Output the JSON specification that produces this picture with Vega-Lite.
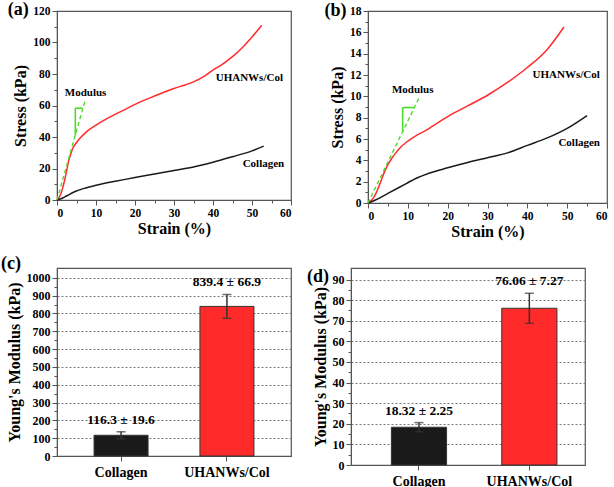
{
  "$schema": "https://vega.github.io/schema/vega-lite/v6.json",
  "padding": {"left": 0, "top": 0, "right": 4, "bottom": 0},
  "background": "white",
  "config": {
    "font": "Liberation Serif",
    "view": {"stroke": "#555", "strokeWidth": 1.2},
    "axis": {"labelFont": "Liberation Serif", "labelFontWeight": "bold", "titleFont": "Liberation Serif", "titleFontWeight": "bold", "domainColor": "#555", "tickColor": "#555", "labelColor": "#000", "titleColor": "#000", "grid": false, "labelFontSize": 11.5, "titleFontSize": 16, "labelOverlap": false},
    "title": {"font": "Liberation Serif", "fontWeight": "bold", "fontSize": 18, "anchor": "start", "frame": "bounds", "color": "#000"},
    "text": {"font": "Liberation Serif", "fontWeight": "bold"}
  },
  "datasets": {
    "curvesA": [
      {"series": "UHANWs/Col", "strain": 0, "stress": 0},
      {"series": "UHANWs/Col", "strain": 0.5, "stress": 1.5},
      {"series": "UHANWs/Col", "strain": 1, "stress": 4},
      {"series": "UHANWs/Col", "strain": 1.5, "stress": 8},
      {"series": "UHANWs/Col", "strain": 2, "stress": 13},
      {"series": "UHANWs/Col", "strain": 2.5, "stress": 19},
      {"series": "UHANWs/Col", "strain": 3, "stress": 25},
      {"series": "UHANWs/Col", "strain": 3.5, "stress": 29},
      {"series": "UHANWs/Col", "strain": 4, "stress": 32.5},
      {"series": "UHANWs/Col", "strain": 5, "stress": 36.5},
      {"series": "UHANWs/Col", "strain": 6, "stress": 39.5},
      {"series": "UHANWs/Col", "strain": 7, "stress": 42},
      {"series": "UHANWs/Col", "strain": 8, "stress": 44.2},
      {"series": "UHANWs/Col", "strain": 10, "stress": 47.5},
      {"series": "UHANWs/Col", "strain": 12, "stress": 50.5},
      {"series": "UHANWs/Col", "strain": 15, "stress": 54.5},
      {"series": "UHANWs/Col", "strain": 18, "stress": 58.2},
      {"series": "UHANWs/Col", "strain": 20, "stress": 60.7},
      {"series": "UHANWs/Col", "strain": 25, "stress": 66},
      {"series": "UHANWs/Col", "strain": 30, "stress": 70.8},
      {"series": "UHANWs/Col", "strain": 33, "stress": 73.2},
      {"series": "UHANWs/Col", "strain": 35, "stress": 75},
      {"series": "UHANWs/Col", "strain": 38, "stress": 79},
      {"series": "UHANWs/Col", "strain": 40, "stress": 82.5},
      {"series": "UHANWs/Col", "strain": 42, "stress": 85.5},
      {"series": "UHANWs/Col", "strain": 45, "stress": 91},
      {"series": "UHANWs/Col", "strain": 48, "stress": 98},
      {"series": "UHANWs/Col", "strain": 50, "stress": 103.5},
      {"series": "UHANWs/Col", "strain": 52.5, "stress": 111},
      {"series": "Collagen", "strain": 0, "stress": 0},
      {"series": "Collagen", "strain": 1, "stress": 0.8},
      {"series": "Collagen", "strain": 2, "stress": 2},
      {"series": "Collagen", "strain": 3, "stress": 3.3},
      {"series": "Collagen", "strain": 4, "stress": 4.6},
      {"series": "Collagen", "strain": 5, "stress": 5.7},
      {"series": "Collagen", "strain": 6, "stress": 6.6},
      {"series": "Collagen", "strain": 7, "stress": 7.4},
      {"series": "Collagen", "strain": 8, "stress": 8.1},
      {"series": "Collagen", "strain": 10, "stress": 9.4},
      {"series": "Collagen", "strain": 12, "stress": 10.5},
      {"series": "Collagen", "strain": 15, "stress": 11.9},
      {"series": "Collagen", "strain": 20, "stress": 14.3},
      {"series": "Collagen", "strain": 25, "stress": 16.5},
      {"series": "Collagen", "strain": 30, "stress": 18.8},
      {"series": "Collagen", "strain": 35, "stress": 21},
      {"series": "Collagen", "strain": 40, "stress": 24},
      {"series": "Collagen", "strain": 45, "stress": 27.5},
      {"series": "Collagen", "strain": 50, "stress": 31.2},
      {"series": "Collagen", "strain": 53, "stress": 34.2}
    ],
    "curvesB": [
      {"series": "UHANWs/Col", "strain": 0, "stress": 0},
      {"series": "UHANWs/Col", "strain": 1, "stress": 0.3},
      {"series": "UHANWs/Col", "strain": 2, "stress": 0.9},
      {"series": "UHANWs/Col", "strain": 3, "stress": 1.8},
      {"series": "UHANWs/Col", "strain": 4, "stress": 2.8},
      {"series": "UHANWs/Col", "strain": 5, "stress": 3.6},
      {"series": "UHANWs/Col", "strain": 6, "stress": 4.2},
      {"series": "UHANWs/Col", "strain": 7, "stress": 4.7},
      {"series": "UHANWs/Col", "strain": 8, "stress": 5.15},
      {"series": "UHANWs/Col", "strain": 10, "stress": 5.8},
      {"series": "UHANWs/Col", "strain": 12, "stress": 6.3},
      {"series": "UHANWs/Col", "strain": 14, "stress": 6.7},
      {"series": "UHANWs/Col", "strain": 16, "stress": 7.15},
      {"series": "UHANWs/Col", "strain": 20, "stress": 8.1},
      {"series": "UHANWs/Col", "strain": 25, "stress": 9.1},
      {"series": "UHANWs/Col", "strain": 30, "stress": 10.1},
      {"series": "UHANWs/Col", "strain": 35, "stress": 11.3},
      {"series": "UHANWs/Col", "strain": 40, "stress": 12.7},
      {"series": "UHANWs/Col", "strain": 45, "stress": 14.4},
      {"series": "UHANWs/Col", "strain": 49.2, "stress": 16.5},
      {"series": "Collagen", "strain": 0, "stress": 0},
      {"series": "Collagen", "strain": 2, "stress": 0.3},
      {"series": "Collagen", "strain": 5, "stress": 0.9},
      {"series": "Collagen", "strain": 8, "stress": 1.5},
      {"series": "Collagen", "strain": 10, "stress": 1.9},
      {"series": "Collagen", "strain": 12, "stress": 2.3},
      {"series": "Collagen", "strain": 15, "stress": 2.75},
      {"series": "Collagen", "strain": 20, "stress": 3.3},
      {"series": "Collagen", "strain": 25, "stress": 3.8},
      {"series": "Collagen", "strain": 30, "stress": 4.25},
      {"series": "Collagen", "strain": 35, "stress": 4.7},
      {"series": "Collagen", "strain": 40, "stress": 5.4},
      {"series": "Collagen", "strain": 45, "stress": 6.1},
      {"series": "Collagen", "strain": 50, "stress": 7.0},
      {"series": "Collagen", "strain": 55, "stress": 8.2}
    ],
    "modA": [{"strain": 0, "stress": 0}, {"strain": 7.3, "stress": 64}],
    "modB": [{"strain": 0, "stress": 0}, {"strain": 13, "stress": 10}],
    "bracketA": [
      {"x1": 4.7, "y1": 41, "x2": 4.7, "y2": 58.3},
      {"x1": 4.7, "y1": 58.3, "x2": 6.6, "y2": 58.3}
    ],
    "bracketB": [
      {"x1": 8.7, "y1": 6.7, "x2": 8.7, "y2": 8.95},
      {"x1": 8.7, "y1": 8.95, "x2": 11.6, "y2": 8.95}
    ],
    "labelsA": [
      {"text": "UHANWs/Col", "x": 40.7, "y": 77.4},
      {"text": "Collagen", "x": 47.6, "y": 22.9},
      {"text": "Modulus", "x": 2.0, "y": 68}
    ],
    "labelsB": [
      {"text": "UHANWs/Col", "x": 41.3, "y": 12.0},
      {"text": "Collagen", "x": 47.8, "y": 5.6},
      {"text": "Modulus", "x": 6.0, "y": 10.6}
    ],
    "barsC": [
      {"group": "Collagen", "mean": 116.3, "lo": 96.7, "hi": 135.9, "label": "116.3 ± 19.6"},
      {"group": "UHANWs/Col", "mean": 839.4, "lo": 772.5, "hi": 906.3, "label": "839.4 ± 66.9"}
    ],
    "barsD": [
      {"group": "Collagen", "mean": 18.32, "lo": 16.07, "hi": 20.57, "label": "18.32 ± 2.25"},
      {"group": "UHANWs/Col", "mean": 76.06, "lo": 68.79, "hi": 83.33, "label": "76.06 ± 7.27"}
    ]
  },
  "spacing": 13,
  "vconcat": [
    {
      "spacing": 30,
      "hconcat": [
        {
          "width": 234, "height": 189,
          "title": {"text": "(a)", "offset": -14, "dx": -5},
          "layer": [
            {
              "data": {"name": "curvesA"},
              "mark": {"type": "line", "strokeWidth": 1.5, "interpolate": "monotone"},
              "encoding": {
                "x": {"field": "strain", "type": "quantitative", "scale": {"domain": [0, 60], "nice": false},
                  "axis": {"title": "Strain (%)", "format": "d", "tickCount": 100, "labelOverlap": false, "values": [0,5,10,15,20,25,30,35,40,45,50,55,60], "labelExpr": "datum.value % 10 === 0 ? datum.label : ''", "tickSize": {"condition": {"test": "datum.value % 10 === 0", "value": 5}, "value": 3}, "labelPadding": 2, "titlePadding": 2}},
                "y": {"field": "stress", "type": "quantitative", "scale": {"domain": [0, 120], "nice": false},
                  "axis": {"title": "Stress (kPa)", "format": "d", "tickCount": 100, "labelOverlap": false, "values": [0,10,20,30,40,50,60,70,80,90,100,110,120], "labelExpr": "datum.value % 20 === 0 ? datum.label : ''", "tickSize": {"condition": {"test": "datum.value % 20 === 0", "value": 5}, "value": 3}, "labelPadding": 2, "titlePadding": 4}},
                "color": {"field": "series", "type": "nominal", "scale": {"domain": ["Collagen", "UHANWs/Col"], "range": ["#1a1a1a", "#ff2b2b"]}, "legend": null}
              }
            },
            {
              "data": {"name": "modA"},
              "mark": {"type": "line", "strokeDash": [4, 3], "color": "#4cdb2a", "strokeWidth": 1.4},
              "encoding": {"x": {"field": "strain", "type": "quantitative"}, "y": {"field": "stress", "type": "quantitative"}}
            },
            {
              "data": {"name": "bracketA"},
              "mark": {"type": "rule", "color": "#4cdb2a", "strokeWidth": 1.6},
              "encoding": {"x": {"field": "x1", "type": "quantitative"}, "y": {"field": "y1", "type": "quantitative"}, "x2": {"field": "x2"}, "y2": {"field": "y2"}}
            },
            {
              "data": {"name": "labelsA"},
              "mark": {"type": "text", "align": "left", "baseline": "middle", "fontSize": 11},
              "encoding": {"x": {"field": "x", "type": "quantitative"}, "y": {"field": "y", "type": "quantitative"}, "text": {"field": "text"}}
            }
          ]
        },
        {
          "width": 239, "height": 192,
          "title": {"text": "(b)", "offset": -15, "dx": -5},
          "layer": [
            {
              "data": {"name": "curvesB"},
              "mark": {"type": "line", "strokeWidth": 1.5, "interpolate": "monotone"},
              "encoding": {
                "x": {"field": "strain", "type": "quantitative", "scale": {"domain": [0, 60], "nice": false},
                  "axis": {"title": "Strain (%)", "format": "d", "tickCount": 100, "labelOverlap": false, "values": [0,5,10,15,20,25,30,35,40,45,50,55,60], "labelExpr": "datum.value % 10 === 0 ? datum.label : ''", "tickSize": {"condition": {"test": "datum.value % 10 === 0", "value": 5}, "value": 3}, "labelPadding": 2, "titlePadding": 2}},
                "y": {"field": "stress", "type": "quantitative", "scale": {"domain": [0, 18], "nice": false},
                  "axis": {"title": "Stress (kPa)", "format": "d", "tickCount": 100, "labelOverlap": false, "values": [0,1,2,3,4,5,6,7,8,9,10,11,12,13,14,15,16,17,18], "labelExpr": "datum.value % 2 === 0 ? datum.label : ''", "tickSize": {"condition": {"test": "datum.value % 2 === 0", "value": 5}, "value": 3}, "labelPadding": 2, "titlePadding": 4}},
                "color": {"field": "series", "type": "nominal", "scale": {"domain": ["Collagen", "UHANWs/Col"], "range": ["#1a1a1a", "#ff2b2b"]}, "legend": null}
              }
            },
            {
              "data": {"name": "modB"},
              "mark": {"type": "line", "strokeDash": [4, 3], "color": "#4cdb2a", "strokeWidth": 1.4},
              "encoding": {"x": {"field": "strain", "type": "quantitative"}, "y": {"field": "stress", "type": "quantitative"}}
            },
            {
              "data": {"name": "bracketB"},
              "mark": {"type": "rule", "color": "#4cdb2a", "strokeWidth": 1.6},
              "encoding": {"x": {"field": "x1", "type": "quantitative"}, "y": {"field": "y1", "type": "quantitative"}, "x2": {"field": "x2"}, "y2": {"field": "y2"}}
            },
            {
              "data": {"name": "labelsB"},
              "mark": {"type": "text", "align": "left", "baseline": "middle", "fontSize": 11},
              "encoding": {"x": {"field": "x", "type": "quantitative"}, "y": {"field": "y", "type": "quantitative"}, "text": {"field": "text"}}
            }
          ]
        }
      ]
    },
    {
      "spacing": 14,
      "hconcat": [
        {
          "width": 234, "height": 188,
          "title": {"text": "(c)", "offset": -5, "dx": -5},
          "data": {"name": "barsC"},
          "layer": [
            {
              "mark": {"type": "bar", "stroke": "#333", "strokeWidth": 1},
              "encoding": {
                "x": {"field": "group", "type": "nominal", "sort": null, "scale": {"paddingInner": 0.49, "paddingOuter": 0.35},
                  "axis": {"title": null, "labelAngle": 0, "labelFontSize": 14, "tickSize": 5, "labelPadding": 4}},
                "y": {"field": "mean", "type": "quantitative", "scale": {"domain": [0, 1055], "nice": false},
                  "axis": {"title": "Young's Modulus (kPa)", "tickCount": 100, "labelOverlap": false, "values": [0,50,100,150,200,250,300,350,400,450,500,550,600,650,700,750,800,850,900,950,1000], "labelExpr": "datum.value % 100 === 0 ? datum.label : ''", "format": "d", "tickSize": {"condition": {"test": "datum.value % 100 === 0", "value": 5}, "value": 3}, "labelFontSize": 12, "labelPadding": 2, "titlePadding": 4,
                    "grid": true, "gridDash": [2, 2], "gridColor": "#777", "gridOpacity": {"condition": {"test": "datum.value % 100 === 0", "value": 1}, "value": 0}}},
                "color": {"field": "group", "type": "nominal", "scale": {"domain": ["Collagen", "UHANWs/Col"], "range": ["#000000", "#ff1c1c"]}, "legend": null}
              }
            },
            {
              "mark": {"type": "rule", "color": "#333", "strokeWidth": 1.5},
              "encoding": {"x": {"field": "group", "type": "nominal", "sort": null}, "y": {"field": "lo", "type": "quantitative"}, "y2": {"field": "hi"}}
            },
            {
              "mark": {"type": "tick", "color": "#333", "thickness": 1.5, "size": 9},
              "encoding": {"x": {"field": "group", "type": "nominal", "sort": null}, "y": {"field": "hi", "type": "quantitative"}}
            },
            {
              "mark": {"type": "tick", "color": "#333", "thickness": 1.5, "size": 9},
              "encoding": {"x": {"field": "group", "type": "nominal", "sort": null}, "y": {"field": "lo", "type": "quantitative"}}
            },
            {
              "mark": {"type": "text", "fontSize": 13.5, "baseline": "middle", "dy": -12},
              "encoding": {"x": {"field": "group", "type": "nominal", "sort": null}, "y": {"field": "hi", "type": "quantitative"}, "text": {"field": "label"}}
            }
          ]
        },
        {
          "width": 234, "height": 197,
          "title": {"text": "(d)", "offset": -18, "dx": -5},
          "data": {"name": "barsD"},
          "layer": [
            {
              "mark": {"type": "bar", "stroke": "#333", "strokeWidth": 1},
              "encoding": {
                "x": {"field": "group", "type": "nominal", "sort": null, "scale": {"paddingInner": 0.5, "paddingOuter": 0.31, "align": 0.59},
                  "axis": {"title": null, "labelAngle": 0, "labelFontSize": 14, "tickSize": 5, "labelPadding": 4}},
                "y": {"field": "mean", "type": "quantitative", "scale": {"domain": [0, 95.6], "nice": false},
                  "axis": {"title": "Young's Modulus (kPa)", "format": "d", "tickCount": 100, "labelOverlap": false, "values": [0,5,10,15,20,25,30,35,40,45,50,55,60,65,70,75,80,85,90], "labelExpr": "datum.value % 10 === 0 ? datum.label : ''", "tickSize": {"condition": {"test": "datum.value % 10 === 0", "value": 5}, "value": 3}, "labelFontSize": 12, "labelPadding": 2, "titlePadding": 4,
                    "grid": true, "gridDash": [2, 2], "gridColor": "#777", "gridOpacity": {"condition": {"test": "datum.value % 10 === 0", "value": 1}, "value": 0}}},
                "color": {"field": "group", "type": "nominal", "scale": {"domain": ["Collagen", "UHANWs/Col"], "range": ["#000000", "#ff1c1c"]}, "legend": null}
              }
            },
            {
              "mark": {"type": "rule", "color": "#333", "strokeWidth": 1.5},
              "encoding": {"x": {"field": "group", "type": "nominal", "sort": null}, "y": {"field": "lo", "type": "quantitative"}, "y2": {"field": "hi"}}
            },
            {
              "mark": {"type": "tick", "color": "#333", "thickness": 1.5, "size": 9},
              "encoding": {"x": {"field": "group", "type": "nominal", "sort": null}, "y": {"field": "hi", "type": "quantitative"}}
            },
            {
              "mark": {"type": "tick", "color": "#333", "thickness": 1.5, "size": 9},
              "encoding": {"x": {"field": "group", "type": "nominal", "sort": null}, "y": {"field": "lo", "type": "quantitative"}}
            },
            {
              "mark": {"type": "text", "fontSize": 13.5, "baseline": "middle", "dy": -12},
              "encoding": {"x": {"field": "group", "type": "nominal", "sort": null}, "y": {"field": "hi", "type": "quantitative"}, "text": {"field": "label"}}
            }
          ]
        }
      ]
    }
  ]
}
